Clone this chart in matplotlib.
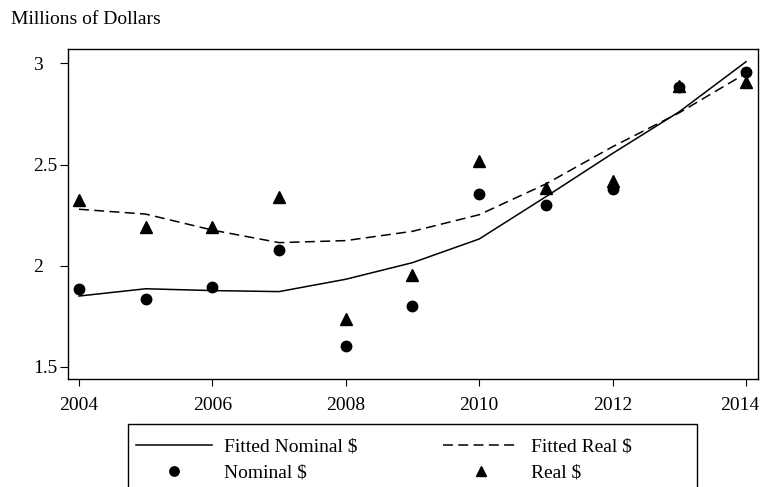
import matplotlib
matplotlib.use("Agg")
import matplotlib.pyplot as plt
from matplotlib.patches import Rectangle
from matplotlib.transforms import ScaledTranslation

years = [2004, 2005, 2006, 2007, 2008, 2009, 2010, 2011, 2012, 2013, 2014]
nominal = [1.886, 1.837, 1.895, 2.078, 1.603, 1.801, 2.353, 2.300, 2.379, 2.884, 2.955]
real = [2.325, 2.193, 2.193, 2.341, 1.738, 1.956, 2.516, 2.385, 2.418, 2.889, 2.906]
fitted_nominal = [1.850, 1.886, 1.877, 1.872, 1.933, 2.015, 2.132, 2.341, 2.555, 2.761, 3.008]
fitted_real = [2.279, 2.255, 2.176, 2.114, 2.124, 2.170, 2.252, 2.404, 2.588, 2.756, 2.951]
xticks = [2004, 2006, 2008, 2010, 2012, 2014]
yticks = [1.5, 2, 2.5, 3]
ytick_labels = ["1.5", "2", "2.5", "3"]

plt.rcParams['font.family'] = ['Liberation Serif', 'DejaVu Serif']
FS = 14

fig = plt.figure(figsize=(7.6, 4.87), dpi=100)
W, H = 760, 487
ax = fig.add_axes([68 / W, 1 - 379 / H, (758 - 68) / W, (379 - 49) / H])

l1, = ax.plot(years, fitted_nominal, color='black', lw=1.1, label='Fitted Nominal $')
l2, = ax.plot(years, fitted_real, color='black', lw=1.1, linestyle=(0, (6.5, 3.5)), label='Fitted Real $')
m1, = ax.plot(years, nominal, linestyle='none', marker='o', color='black', markersize=7.5, label='Nominal $')
m2, = ax.plot(years, real, linestyle='none', marker='^', color='black', markersize=8, label='Real $')

ax.set_xlim(2003.835, 2014.18)
ax.set_ylim(1.44, 3.071)
ax.set_xticks(xticks)
ax.set_xticklabels([str(x) for x in xticks], fontsize=FS)
ax.set_yticks(yticks)
ax.set_yticklabels(ytick_labels, fontsize=FS)
for lab in ax.get_yticklabels():
    lab.set_horizontalalignment('left')
ax.tick_params(axis='y', length=5.76, width=0.8, pad=19.4, left=True, right=False)
ax.tick_params(axis='x', length=5.0, width=0.8, pad=8.0, bottom=True, top=False)
for s in ax.spines.values():
    s.set_linewidth(1.0)

# keep the last x label inside the figure, as in the reference
last = ax.get_xticklabels()[-1]
last.set_transform(last.get_transform() + ScaledTranslation(-6 / 100, 0, fig.dpi_scale_trans))

fig.text(11 / W, 1 - 23.5 / H, 'Millions of Dollars', fontsize=FS, va='baseline', ha='left')

# legend box
fig.patches.append(Rectangle((128 / W, 1 - 520 / H), (697 - 128) / W, (520 - 424) / H,
                             transform=fig.transFigure, fill=False, edgecolor='black',
                             linewidth=1.0, clip_on=False))

leg = fig.legend([l1, m1, l2, m2],
                 ['Fitted Nominal $', 'Nominal $', 'Fitted Real $', 'Real $'],
                 ncol=2, loc='upper left',
                 bbox_to_anchor=(128 / W, 1 - 430 / H),
                 fontsize=FS, frameon=False,
                 handlelength=3.9, handletextpad=0.62, columnspacing=4.4,
                 borderaxespad=0, borderpad=0.41, labelspacing=0.44, numpoints=1,
                 markerscale=0.9)

fig.savefig('out.png', dpi=100)
